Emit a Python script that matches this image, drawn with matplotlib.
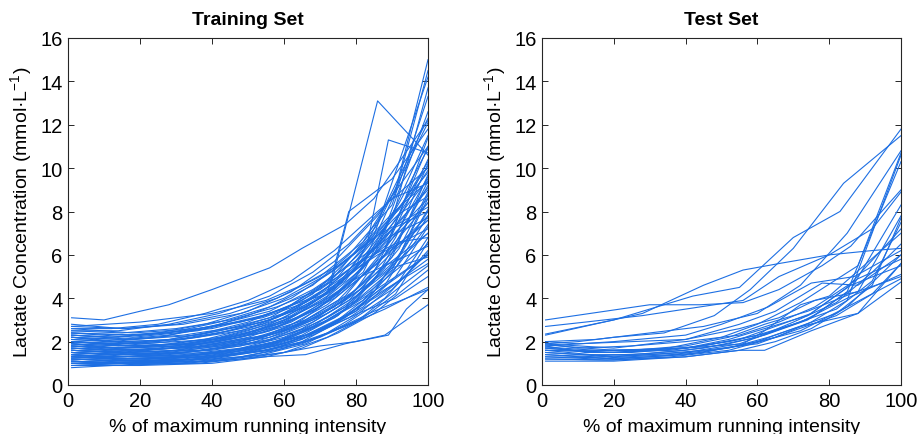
import matplotlib
matplotlib.use("Agg")
import matplotlib.pyplot as plt

plt.rcParams['font.family'] = ['Liberation Sans', 'DejaVu Sans']
plt.rcParams['mathtext.fontset'] = 'custom'
plt.rcParams['mathtext.rm'] = 'Liberation Sans'

# ---------------- Training set (x = % max intensity, y = lactate) ----------------
G1 = [1, 18, 36, 54, 66, 77, 88, 100]
G2 = [1, 15, 30, 45, 58, 70, 82, 91, 100]
G3 = [1, 20, 40, 55, 65, 75, 85, 100]
G4 = [1, 12, 25, 38, 50, 62, 74, 86, 100]
G5 = [1, 16, 32, 48, 60, 72, 80, 92, 100]
G6 = [1, 14, 28, 42, 56, 68, 78, 90, 100]

train_x = [
    G1, G1, G1, G1, G1, G1, G1, G1, G1, G1,
    G2, G2, G2, G2, G2, G2, G2, G2, G2, G2,
    G3, G3, G3, G3, G3, G3, G3, G3, G3, G3, G3,
    G4, G4, G4, G4, G4, G4, G4, G4, G4, G4,
    G5, G5, G5, G5, G5, G5, G5, G5, G5, G5, G5, G5, G5, G5, G5,
    G6, G6, G6, G6, G6, G6, G6, G6, G6, G6, G6, G6,
    [1, 10, 20, 28, 40, 56, 65, 77, 85, 100],
    [1, 18, 36, 54, 64, 73, 86, 100],
    [1, 17, 34, 51, 63, 75, 83, 89, 100],
    [1, 18, 36, 54, 66, 72, 78, 90, 100],
    [1, 20, 40, 60, 70, 80, 89, 94, 100],
]
train_y = [
    [0.8, 0.95, 1.0, 1.3, 1.4, 1.9, 2.3, 3.7],
    [1.1, 1.0, 1.1, 1.4, 1.9, 2.8, 4.0, 6.2],
    [1.4, 1.2, 1.3, 1.7, 2.2, 3.1, 4.6, 7.8],
    [1.7, 1.5, 1.6, 2.0, 2.6, 3.6, 5.4, 9.4],
    [2.0, 1.8, 1.9, 2.4, 3.0, 4.1, 6.3, 11.0],
    [2.3, 2.1, 2.3, 2.9, 3.6, 4.8, 7.2, 12.6],
    [1.5, 1.3, 1.4, 1.8, 2.3, 3.2, 4.4, 5.6],
    [1.9, 1.6, 1.8, 2.2, 2.9, 3.9, 5.2, 7.0],
    [2.6, 2.4, 2.6, 3.1, 3.8, 4.9, 6.4, 8.4],
    [1.2, 1.1, 1.2, 1.6, 2.0, 2.7, 3.5, 4.5],
    [1.0, 0.9, 1.0, 1.2, 1.6, 2.2, 3.1, 4.2, 6.6],
    [1.3, 1.2, 1.3, 1.6, 2.0, 2.8, 3.9, 5.6, 8.8],
    [1.6, 1.5, 1.6, 1.9, 2.4, 3.2, 4.5, 6.8, 10.2],
    [1.8, 1.6, 1.7, 2.1, 2.7, 3.6, 5.2, 8.2, 13.7],
    [2.2, 2.0, 2.1, 2.5, 3.1, 4.0, 5.6, 8.9, 14.5],
    [2.5, 2.4, 2.6, 3.0, 3.6, 4.4, 5.8, 7.6, 9.5],
    [1.4, 1.3, 1.3, 1.5, 1.9, 2.5, 3.6, 5.0, 7.3],
    [2.8, 2.6, 2.8, 3.3, 4.0, 5.0, 6.6, 9.0, 15.0],
    [1.9, 1.7, 1.8, 2.2, 2.8, 3.8, 5.4, 7.4, 9.0],
    [1.1, 1.0, 1.1, 1.4, 1.8, 2.5, 3.4, 4.0, 5.0],
    [0.9, 0.9, 1.0, 1.3, 1.7, 2.4, 3.3, 5.3],
    [1.3, 1.1, 1.2, 1.6, 2.1, 3.0, 4.3, 8.0],
    [1.6, 1.4, 1.6, 2.0, 2.6, 3.6, 5.2, 10.4],
    [2.1, 1.9, 2.1, 2.6, 3.2, 4.3, 6.0, 11.5],
    [2.4, 2.3, 2.6, 3.2, 3.9, 5.0, 6.9, 14.2],
    [1.7, 1.6, 1.8, 2.3, 3.0, 4.2, 6.0, 8.6],
    [2.7, 2.9, 3.3, 3.9, 4.6, 5.5, 6.8, 9.8],
    [1.2, 1.2, 1.3, 1.6, 2.0, 2.9, 4.2, 6.0],
    [2.0, 1.8, 1.9, 2.3, 2.9, 3.9, 5.6, 7.6],
    [1.5, 1.4, 1.5, 1.8, 2.3, 3.2, 4.8, 9.2],
    [1.3, 1.2, 1.3, 1.6, 1.9, 2.6, 3.4, 4.4],
    [1.0, 1.0, 1.1, 1.2, 1.5, 2.0, 2.9, 4.1, 5.8],
    [1.4, 1.3, 1.4, 1.6, 2.0, 2.6, 3.6, 5.2, 7.0],
    [1.7, 1.6, 1.7, 2.0, 2.5, 3.2, 4.4, 6.4, 9.9],
    [2.0, 1.9, 2.0, 2.4, 2.9, 3.7, 5.0, 7.4, 12.1],
    [2.3, 2.2, 2.4, 2.8, 3.4, 4.3, 5.7, 7.8, 11.0],
    [2.6, 2.6, 2.8, 3.3, 3.9, 4.8, 6.2, 8.0, 10.0],
    [1.2, 1.1, 1.2, 1.4, 1.7, 2.2, 3.1, 4.6, 6.5],
    [1.8, 1.7, 1.8, 2.1, 2.6, 3.4, 4.7, 6.0, 7.2],
    [1.5, 1.4, 1.5, 1.8, 2.2, 2.9, 4.0, 5.6, 8.4],
    [2.2, 2.0, 2.2, 2.6, 3.2, 4.0, 5.3, 6.9, 8.2],
    [0.9, 1.0, 1.0, 1.2, 1.5, 2.2, 2.9, 4.5, 5.5],
    [1.2, 1.1, 1.2, 1.5, 1.9, 2.7, 3.4, 5.6, 7.4],
    [1.4, 1.3, 1.4, 1.7, 2.2, 3.1, 3.9, 6.3, 8.9],
    [1.6, 1.5, 1.6, 1.9, 2.5, 3.5, 4.4, 7.2, 9.6],
    [1.8, 1.7, 1.8, 2.2, 2.8, 3.9, 5.0, 8.4, 10.9],
    [2.1, 2.0, 2.1, 2.5, 3.1, 4.3, 5.5, 9.6, 12.3],
    [2.4, 2.3, 2.5, 2.9, 3.5, 4.7, 5.9, 7.9, 8.7],
    [1.3, 1.2, 1.3, 1.6, 2.1, 3.0, 3.8, 5.1, 6.0],
    [1.7, 1.6, 1.7, 2.0, 2.6, 3.7, 4.8, 6.5, 7.8],
    [2.0, 1.8, 1.9, 2.3, 2.9, 4.1, 5.4, 7.5, 9.1],
    [1.1, 1.0, 1.1, 1.3, 1.7, 2.4, 3.2, 4.8, 6.8],
    [2.7, 2.6, 2.8, 3.3, 4.0, 5.1, 6.1, 8.1, 10.3],
    [1.5, 1.4, 1.5, 1.8, 2.4, 3.3, 4.1, 5.9, 8.1],
    [2.2, 2.1, 2.3, 2.7, 3.3, 4.5, 5.6, 6.6, 6.8],
    [1.9, 1.8, 1.9, 2.3, 3.0, 4.0, 4.9, 5.8, 6.4],
    [1.0, 1.1, 1.1, 1.3, 1.6, 2.3, 3.1, 4.4, 6.1],
    [1.3, 1.3, 1.4, 1.7, 2.1, 2.9, 3.9, 5.9, 9.7],
    [1.6, 1.5, 1.7, 2.0, 2.5, 3.4, 4.6, 7.0, 11.4],
    [1.9, 1.8, 2.0, 2.4, 3.0, 4.0, 5.3, 7.7, 10.1],
    [2.2, 2.1, 2.3, 2.8, 3.4, 4.4, 5.5, 6.9, 7.7],
    [2.5, 2.5, 2.8, 3.3, 4.1, 5.2, 6.5, 8.6, 9.3],
    [1.1, 1.0, 1.2, 1.4, 1.8, 2.6, 3.6, 5.3, 8.6],
    [1.5, 1.4, 1.5, 1.8, 2.2, 3.0, 4.1, 6.1, 7.6],
    [1.8, 1.7, 1.9, 2.2, 2.8, 3.8, 5.1, 7.2, 8.0],
    [2.3, 2.2, 2.4, 2.9, 3.6, 4.6, 6.0, 8.3, 13.3],
    [1.4, 1.2, 1.3, 1.5, 1.9, 2.7, 3.8, 5.4, 5.9],
    [2.0, 1.9, 2.1, 2.5, 3.1, 4.2, 5.8, 7.9, 9.4],
    [3.1, 3.0, 3.4, 3.7, 4.4, 5.4, 6.3, 7.4, 8.6, 12.2],
    [2.0, 1.9, 2.2, 2.8, 3.6, 4.6, 13.1, 10.6],
    [1.6, 1.5, 1.8, 2.4, 3.2, 4.6, 6.4, 11.3, 10.7],
    [2.4, 2.2, 2.5, 3.2, 3.9, 4.2, 8.0, 9.5, 11.8],
    [1.0, 1.0, 1.1, 1.5, 1.8, 2.0, 2.3, 3.5, 4.4],
]

# ---------------- Test set ----------------
test_x = [
    [1, 30, 44, 56, 66, 78, 86, 100],
    [1, 12, 28, 40, 56, 66, 80, 92, 100],
    [1, 20, 42, 55, 70, 83, 100],
    [1, 28, 45, 56, 66, 80, 92, 100],
    [1, 10, 20, 34, 48, 58, 70, 84, 100],
    [1, 15, 30, 45, 60, 72, 85, 100],
    [1, 20, 40, 55, 65, 78, 88, 100],
    [1, 20, 40, 55, 62, 75, 88, 100],
    [1, 18, 36, 52, 63, 72, 85, 100],
    [1, 15, 30, 45, 60, 70, 82, 92, 100],
    [1, 20, 40, 55, 65, 75, 85, 100],
    [1, 12, 25, 40, 52, 62, 74, 86, 100],
    [1, 20, 40, 55, 65, 75, 85, 100],
    [1, 18, 36, 52, 63, 72, 85, 100],
    [1, 15, 30, 45, 60, 70, 82, 92, 100],
    [1, 12, 25, 40, 52, 62, 74, 86, 100],
    [1, 20, 40, 55, 65, 75, 85, 100],
    [1, 10, 25, 40, 55, 66, 76, 88, 100],
    [1, 18, 36, 52, 63, 72, 88, 100],
    [1, 15, 30, 45, 60, 70, 82, 92, 100],
    [1, 20, 40, 55, 65, 75, 85, 100],
    [1, 12, 25, 40, 52, 62, 74, 86, 100],
    [1, 10, 25, 40, 55, 66, 76, 88, 100],
    [1, 20, 35, 50, 60, 72, 88, 100],
    [1, 15, 30, 45, 60, 70, 82, 92, 100],
    [1, 20, 40, 50, 63, 75, 87, 100],
    [1, 18, 40, 56, 62, 72, 80, 100],
]
test_y = [
    [3.0, 3.7, 3.7, 3.8, 4.4, 5.5, 6.4, 9.0],
    [2.7, 2.9, 3.2, 3.5, 3.9, 5.0, 6.0, 7.2, 8.9],
    [2.35, 3.0, 4.1, 4.5, 6.8, 8.0, 11.8],
    [2.3, 3.3, 4.6, 5.3, 5.6, 6.0, 6.2, 6.3],
    [1.9, 2.0, 2.2, 2.4, 3.2, 4.4, 6.3, 9.3, 11.5],
    [2.0, 2.1, 2.4, 2.7, 3.3, 4.6, 7.0, 10.8],
    [1.9, 1.7, 2.1, 2.8, 3.4, 4.7, 4.6, 6.0],
    [1.1, 1.1, 1.3, 1.6, 1.6, 2.5, 3.3, 5.6],
    [1.2, 1.15, 1.3, 1.6, 2.1, 2.5, 3.6, 6.0],
    [1.3, 1.2, 1.3, 1.5, 2.0, 2.6, 3.3, 4.6, 7.7],
    [1.4, 1.2, 1.4, 1.8, 2.2, 2.9, 3.9, 10.6],
    [1.5, 1.4, 1.4, 1.6, 1.9, 2.3, 3.0, 4.4, 8.3],
    [1.6, 1.3, 1.5, 1.9, 2.5, 3.1, 4.3, 10.3],
    [1.7, 1.5, 1.6, 2.0, 2.4, 2.9, 4.0, 5.1],
    [1.75, 1.6, 1.6, 1.8, 2.3, 2.8, 3.5, 4.8, 7.5],
    [1.8, 1.5, 1.5, 1.7, 2.1, 2.6, 3.2, 4.6, 5.5],
    [1.85, 1.6, 1.7, 2.1, 2.7, 3.3, 4.5, 7.2],
    [1.9, 1.7, 1.8, 2.0, 2.3, 2.9, 3.6, 4.9, 5.8],
    [1.3, 1.25, 1.4, 1.7, 2.2, 2.7, 3.3, 4.75],
    [1.5, 1.35, 1.45, 1.7, 2.2, 2.9, 3.8, 5.2, 6.5],
    [1.2, 1.15, 1.3, 1.6, 2.0, 2.6, 3.6, 4.9],
    [1.7, 1.55, 1.6, 1.8, 2.2, 2.8, 3.4, 4.2, 5.0],
    [2.0, 1.9, 2.0, 2.1, 2.6, 3.1, 3.9, 4.3, 7.8],
    [1.6, 1.5, 1.7, 2.2, 2.8, 3.8, 5.5, 10.7],
    [1.4, 1.3, 1.4, 1.6, 1.9, 2.5, 3.2, 4.2, 5.6],
    [1.8, 2.0, 2.3, 2.8, 3.6, 4.7, 5.0, 6.2],
    [1.6, 1.6, 1.7, 1.9, 2.5, 3.7, 4.1, 7.0],
]

titles = ["Training Set", "Test Set"]
xlabel = "% of maximum running intensity"
ylabel = r"Lactate Concentration (mmol·L$^{\mathregular{-1}}$)"
xticks = [0, 20, 40, 60, 80, 100]
yticks = [0, 2, 4, 6, 8, 10, 12, 14, 16]

line_color = "#1d6fe3"
axis_color = "#262626"

fig = plt.figure(figsize=(9.19, 4.35), dpi=100)
ax1 = fig.add_axes([68 / 919, 49 / 435, 360 / 919, 347 / 435])
ax2 = fig.add_axes([542 / 919, 49 / 435, 359 / 919, 347 / 435])

for ax, xs, ys, title in [(ax1, train_x, train_y, titles[0]), (ax2, test_x, test_y, titles[1])]:
    for x, y in zip(xs, ys):
        ax.plot(x, y, color=line_color, lw=0.8)
    ax.set_xlim(0, 100)
    ax.set_ylim(0, 16)
    ax.set_xticks(xticks)
    ax.set_yticks(yticks)
    ax.tick_params(direction='in', top=True, right=True, length=4, width=0.7,
                   labelsize=14.5, color=axis_color, labelcolor='#000000', pad=4)
    for sp in ax.spines.values():
        sp.set_color(axis_color)
        sp.set_linewidth(0.8)
    ax.set_title(title, fontsize=14, fontweight='bold', pad=10)
    ax.set_xlabel(xlabel, fontsize=14, labelpad=6)
    ax.set_ylabel(ylabel, fontsize=14, labelpad=4)

fig.savefig("out.png", dpi=100)
